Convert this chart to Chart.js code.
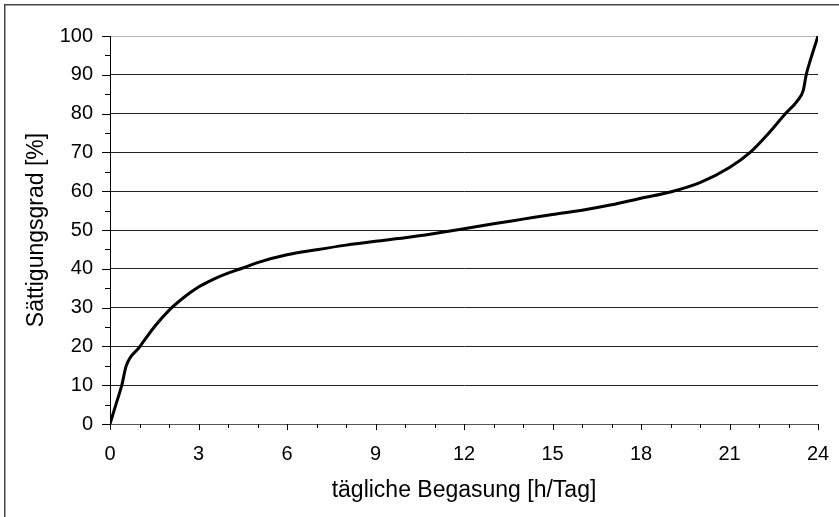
<!DOCTYPE html>
<html>
<head>
<meta charset="utf-8">
<script src="https://cdn.jsdelivr.net/npm/chart.js@4"></script>
<style>
  body { margin: 0; background: #fff; }
  canvas { display: block; }
</style>
</head>
<body>
<canvas id="chart" width="839" height="517"></canvas>
<script>
// ----------------- Data -----------------
const hours = [0, 0.2, 0.4, 0.55, 1, 1.5, 2, 2.5, 3, 3.5, 4, 4.5, 5, 6, 7, 8, 9, 10, 11, 12,
  13, 14, 15, 16, 17, 18, 19, 20, 21, 21.7, 22.3, 22.9, 23.3, 23.5, 23.6, 23.75, 24];
const saturation = [0, 5, 10, 15, 19.8, 25, 29.3, 32.6, 35.3, 37.3, 38.9, 40.2, 41.6, 43.6, 44.9, 46.1, 47.1, 48, 49.1, 50.3,
  51.6, 52.8, 54, 55.1, 56.5, 58.2, 59.8, 62.2, 66.1, 70, 74.7, 80, 83.3, 86, 90, 94, 100];
const xTicks = [0, 3, 6, 9, 12, 15, 18, 21, 24];
const yTicks = [0, 10, 20, 30, 40, 50, 60, 70, 80, 90, 100];

const points = hours.map((h, i) => ({ x: h, y: saturation[i] }));

// ----------------- Frame + minor ticks -----------------
const extras = {
  id: 'extras',
  beforeDraw(chart) {
    const c = chart.ctx;
    c.save();
    c.strokeStyle = '#444';
    c.lineWidth = 1.5;
    c.beginPath();
    c.moveTo(4.75, 600);
    c.lineTo(4.75, 4.75);
    c.lineTo(900, 4.75);
    c.stroke();
    c.restore();
  },
  afterDraw(chart) {
    const c = chart.ctx;
    const xs = chart.scales.x, ys = chart.scales.y;
    c.save();
    c.strokeStyle = '#000';
    c.lineWidth = 1;
    c.beginPath();
    for (let v = 0; v <= 100; v += 5) {
      const py = Math.round(ys.getPixelForValue(v)) + 0.5;
      const len = v % 10 === 0 ? 8 : 5;
      c.moveTo(xs.left - len, py);
      c.lineTo(xs.left, py);
    }
    for (let v = 0; v <= 24; v += 1) {
      const px = Math.round(xs.getPixelForValue(v)) + 0.5;
      const len = v % 3 === 0 ? 6 : 4;
      c.moveTo(px, ys.bottom);
      c.lineTo(px, ys.bottom + len);
    }
    c.stroke();
    c.restore();
  }
};

const font = { family: 'Liberation Sans, Arial, sans-serif', size: 20 };
const titleFont = { family: 'Liberation Sans, Arial, sans-serif', size: 23 };

new Chart(document.getElementById('chart').getContext('2d'), {
  type: 'line',
  data: {
    datasets: [{
      data: points,
      borderColor: '#000',
      borderWidth: 3,
      pointRadius: 0,
      cubicInterpolationMode: 'monotone',
      fill: false
    }]
  },
  options: {
    responsive: false,
    animation: false,
    layout: { padding: { left: 0, right: 21, top: 36, bottom: 0 } },
    plugins: { legend: { display: false }, tooltip: { enabled: false } },
    scales: {
      x: {
        type: 'linear',
        min: 0, max: 24,
        afterBuildTicks: s => { s.ticks = xTicks.map(v => ({ value: v })); },
        afterFit: s => { s.height = 93; s.paddingLeft = 0; s.paddingRight = 0; },
        grid: { display: false, drawTicks: false },
        border: { display: true, color: '#555', width: 1 },
        ticks: { color: '#000', font: font, padding: 18, maxRotation: 0 },
        title: { display: true, text: 'tägliche Begasung [h/Tag]', color: '#000', font: titleFont, padding: { top: 0, bottom: 13 } }
      },
      y: {
        min: 0, max: 100,
        afterBuildTicks: s => { s.ticks = yTicks.map(v => ({ value: v })); },
        afterFit: s => { s.width = 110; s.paddingTop = 0; s.paddingBottom = 0; },
        grid: {
          drawTicks: false,
          color: ctx => ctx.tick && ctx.tick.value === 100 ? '#b5b5b5' : (ctx.tick && ctx.tick.value === 0 ? '#555' : '#222'),
          lineWidth: 1
        },
        border: { display: true, color: '#000', width: 1 },
        ticks: { color: '#000', font: font, padding: 17 },
        title: { display: true, text: 'Sättigungsgrad [%]', color: '#000', font: titleFont, padding: { top: 23, bottom: 0 } }
      }
    }
  },
  plugins: [extras]
});
</script>
</body>
</html>
